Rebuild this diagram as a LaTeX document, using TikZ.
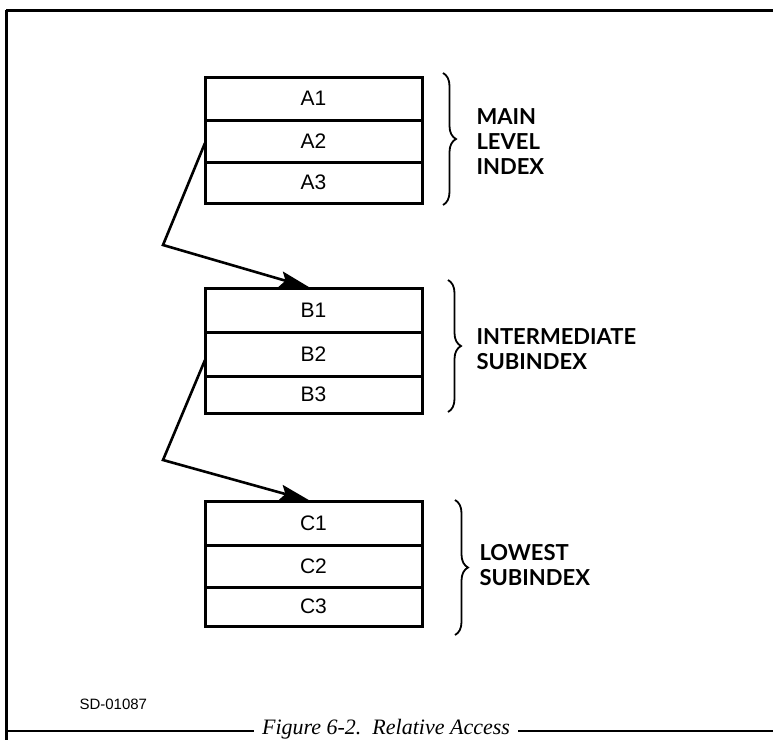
\documentclass[tikz,border=0pt]{standalone}
\usepackage{fontspec}
\setmainfont{Liberation Sans}
\newfontfamily\capfont{Liberation Serif}
\newfontfamily\lvlfont{Lato}
\usepackage{tikz}
\usetikzlibrary{arrows.meta,positioning,decorations.pathreplacing}
\tikzset{
  rec/.style   ={draw, line width=3pt, minimum width=217pt, minimum height=43pt, outer sep=0pt, inner sep=0pt, font=\fontsize{21}{24}\selectfont},
  lvl/.style   ={anchor=west, align=left, font=\lvlfont\bfseries\fontsize{22}{25}\selectfont},
  brc/.style   ={decorate, decoration={brace, amplitude=13pt}, line width=1.8pt},
  ptr/.style   ={-{Stealth[length=31pt, width=16pt, inset=5pt]}, line width=2.6pt},
  frm/.style   ={line width=3pt},
}

\begin{document}
\begin{tikzpicture}[x=1pt, y=-1pt]
  \useasboundingbox (0,0) rectangle (773,740);

  % ---- frame round the figure ----
  \coordinate (tl) at (6,10);
  \coordinate (tr) at (773,10);
  \coordinate (bl) at (6,740);
  \coordinate (cl) at (6,731);
  \coordinate (cr) at (773,731);
  \draw[frm] (tl) -- (tr);
  \draw[frm] (tl) -- (bl);

  % ---- main level index ----
  \node[rec] (a1) at (313.5,98.5) {A1};
  \node[rec, below=0pt of a1, minimum height=42pt] (a2) {A2};
  \node[rec, below=0pt of a2, minimum height=41pt] (a3) {A3};

  % ---- intermediate subindex ----
  \node[rec, minimum height=44pt] (b1) at (313.5,310) {B1};
  \node[rec, below=0pt of b1, minimum height=44pt] (b2) {B2};
  \node[rec, below=0pt of b2, minimum height=37pt] (b3) {B3};

  % ---- lowest subindex ----
  \node[rec, minimum height=44pt] (c1) at (313.5,523) {C1};
  \node[rec, below=0pt of c1, minimum height=42pt] (c2) {C2};
  \node[rec, below=0pt of c2, minimum height=39pt] (c3) {C3};

  % ---- pointers down the levels ----
  \coordinate (kneeA) at (163,245);
  \coordinate (kneeB) at (163,460);
  \draw[ptr] ([yshift=-2pt]a2.west) -- (kneeA) -- ([xshift=-3pt]b1.north);
  \draw[ptr] ([yshift=-6pt]b2.west) -- (kneeB) -- ([xshift=-3pt]c1.north);

  % ---- braces and level names ----
  \coordinate (ba1) at (443,73);  \coordinate (ba2) at (443,205);
  \coordinate (bb1) at (448,280); \coordinate (bb2) at (448,412);
  \coordinate (bc1) at (455,500); \coordinate (bc2) at (455,635);
  \draw[brc] (ba1) -- (ba2);
  \draw[brc] (bb1) -- (bb2);
  \draw[brc] (bc1) -- (bc2);
  \node[lvl] (la) at (473,142) {MAIN\\LEVEL\\INDEX};
  \node[lvl] (lb) at (473,349) {INTERMEDIATE\\SUBINDEX};
  \node[lvl] (lc) at (476,565) {LOWEST\\SUBINDEX};

  % ---- drawing number and caption ----
  \node[anchor=west, font=\fontsize{15}{18}\selectfont] (sd) at (76,704) {SD-01087};
  \node[inner xsep=8pt, inner ysep=1pt, font=\capfont\itshape\fontsize{22}{26}\selectfont] (cap) at (386,729) {Figure 6-2.\ \ Relative Access};
  \draw[line width=1.8pt] (cl) -- (cl -| cap.west);
  \draw[line width=1.8pt] (cr -| cap.east) -- (cr);
\end{tikzpicture}
\end{document}
